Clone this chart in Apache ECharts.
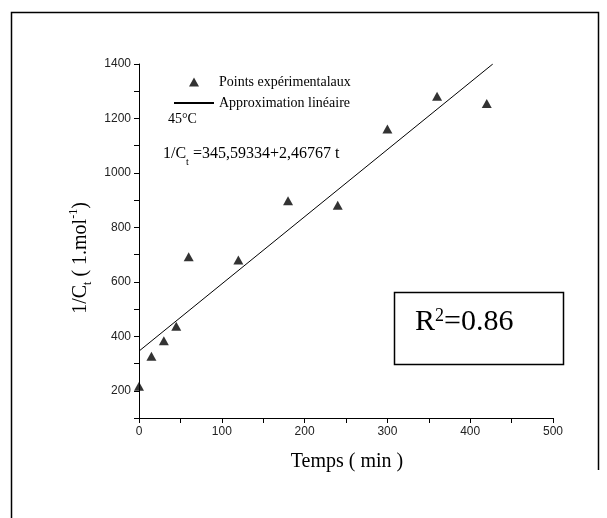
<!DOCTYPE html>
<html>
<head>
<meta charset="utf-8">
<script src="https://cdn.jsdelivr.net/npm/echarts@6/dist/echarts.min.js"></script>
<style>
  html, body { margin: 0; padding: 0; background: #fff; }
  #chart { width: 607px; height: 518px; }
</style>
</head>
<body>
<div id="chart"></div>
<script>
// temps (min) et 1/Ct
var tempsMin = [0, 15, 30, 45, 60, 120, 180, 240, 300, 360, 420];
var invConc = [217, 327, 384, 437, 692, 680, 898, 881, 1161, 1282, 1255];
// droite d'ajustement : part de 345,6 et sort du cadre vers t = 427
var fitT = [0, 427.3];
var fitC = [345.6, 1400];
// graduations avec libellé
var xLabels = [0, 100, 200, 300, 400, 500];
var yLabels = [200, 400, 600, 800, 1000, 1200, 1400];

var serif = "'Liberation Serif', 'Times New Roman', serif";
var sans = "'Liberation Sans', Arial, sans-serif";

var myChart = echarts.init(document.getElementById('chart'));

var points = tempsMin.map(function (t, i) { return [t, invConc[i]]; });
var fit = fitT.map(function (t, i) { return [t, fitC[i]]; });

// petit triangle centré dans une case 40x9 (les sous-chemins vides fixent la taille de la case)
var legendTriangle = 'path://M0 9L0 9Z M15 9L20 0L25 9Z M40 0L40 0Z';

var axisCommon = {
  type: 'value',
  axisLine: { show: true, onZero: false, lineStyle: { color: '#000', width: 1 } },
  axisTick: { show: true, inside: false, length: 5, lineStyle: { color: '#000', width: 1 } },
  splitLine: { show: false },
};

var options = {
  animation: false,
  backgroundColor: '#fff',
  grid: { left: 139, right: 54, top: 64, bottom: 100 },
  xAxis: Object.assign({}, axisCommon, {
    min: 0,
    max: 500,
    interval: 50,
    axisLabel: {
      margin: 8,
      fontFamily: sans,
      fontSize: 12,
      color: '#222',
      formatter: function (v) { return xLabels.indexOf(v) > -1 ? String(v) : ''; },
    },
  }),
  yAxis: Object.assign({}, axisCommon, {
    min: 100,
    max: 1400,
    interval: 100,
    axisLabel: {
      margin: 8,
      fontFamily: sans,
      fontSize: 12,
      color: '#222',
      formatter: function (v) { return yLabels.indexOf(v) > -1 ? String(v) : ''; },
    },
  }),
  legend: {
    orient: 'vertical',
    left: 168,
    top: 70,
    itemWidth: 40,
    itemHeight: 9,
    itemGap: 7,
    selectedMode: false,
    textStyle: { fontFamily: serif, fontSize: 14, color: '#000' },
    data: [
      { name: 'Points expérimentalaux', icon: legendTriangle },
      // pas de symbole sur le trait de la légende
      { name: 'Approximation linéaire', itemStyle: { opacity: 0 } },
    ],
  },
  series: [
    {
      name: 'Approximation linéaire',
      type: 'line',
      data: fit,
      symbol: 'none',
      lineStyle: { color: '#000', width: 1 },
      itemStyle: { color: '#000' },
      z: 2,
    },
    {
      name: 'Points expérimentalaux',
      type: 'scatter',
      data: points,
      symbol: 'triangle',
      symbolSize: [10, 9],
      itemStyle: { color: '#000' },
      z: 3,
    },
  ],
  graphic: [
    // cadre de la figure (le bas n'est pas fermé)
    {
      type: 'polyline',
      shape: { points: [[11.5, 518], [11.5, 12.5], [598.5, 12.5], [598.5, 470]] },
      style: { stroke: '#000', lineWidth: 1.5, fill: null },
    },
    {
      type: 'text',
      x: 168,
      y: 119,
      style: { text: '45°C', fontFamily: serif, fontSize: 14, fill: '#000', verticalAlign: 'middle' },
    },
    {
      type: 'text',
      x: 163,
      y: 154,
      style: {
        text: '{a|1/C}{s|t}{a| =345,59334+2,46767 t}',
        fontFamily: serif,
        fontSize: 16,
        fill: '#000',
        verticalAlign: 'middle',
        rich: {
          a: { fontFamily: serif, fontSize: 16, fill: '#000' },
          s: { fontFamily: serif, fontSize: 10, fill: '#000', padding: [16, 0, 0, 0] },
        },
      },
    },
    {
      type: 'rect',
      shape: { x: 394.5, y: 292.5, width: 169, height: 72 },
      style: { stroke: '#000', lineWidth: 1.5, fill: null },
    },
    {
      type: 'text',
      x: 415,
      y: 322,
      style: {
        text: '{a|R}{s|2}{a|=0.86}',
        fontFamily: serif,
        fontSize: 30,
        fill: '#000',
        verticalAlign: 'middle',
        rich: {
          a: { fontFamily: serif, fontSize: 30, fill: '#000' },
          s: { fontFamily: serif, fontSize: 18, fill: '#000', padding: [0, 0, 12, 0] },
        },
      },
    },
    // titres des axes
    {
      type: 'text',
      x: 347,
      y: 462,
      style: {
        text: 'Temps ( min )',
        fontFamily: serif,
        fontSize: 20,
        fill: '#000',
        align: 'center',
        verticalAlign: 'middle',
      },
    },
    {
      type: 'text',
      x: 81,
      y: 258,
      rotation: Math.PI / 2,
      style: {
        text: '{a|1/C}{s|t}{a| ( 1.mol}{p|-1}{a|)}',
        fontFamily: serif,
        fontSize: 20,
        fill: '#000',
        align: 'center',
        verticalAlign: 'middle',
        rich: {
          a: { fontFamily: serif, fontSize: 20, fill: '#000' },
          s: { fontFamily: serif, fontSize: 12, fill: '#000', padding: [14, 0, 0, 0] },
          p: { fontFamily: serif, fontSize: 12, fill: '#000', padding: [0, 0, 14, 0] },
        },
      },
    },
  ],
};

myChart.setOption(options);
</script>
</body>
</html>
